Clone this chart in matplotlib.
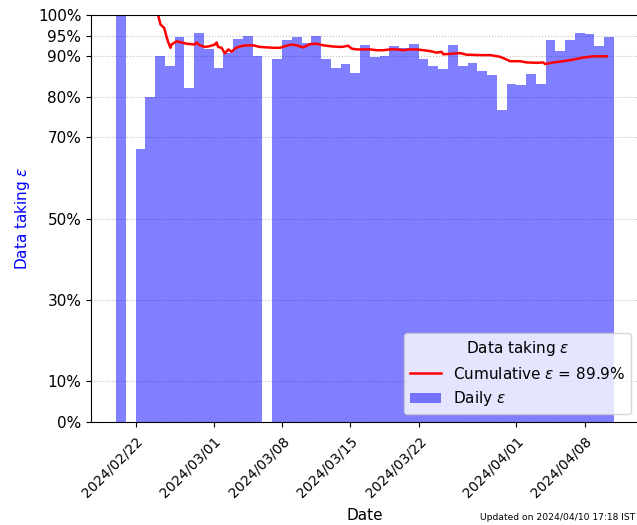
# plot.py
# Daily and cumulative data taking efficiency, Feb-Apr 2024.

import matplotlib
matplotlib.use("Agg")
import matplotlib.pyplot as plt
import matplotlib.dates as mdates
import pandas as pd

# ---------------------------------------------------------------------------
# Data
# ---------------------------------------------------------------------------

daily_dates = (
    ["2024-02-20"]
    + [d.strftime("%Y-%m-%d") for d in pd.date_range("2024-02-22", "2024-03-05")]
    + [d.strftime("%Y-%m-%d") for d in pd.date_range("2024-03-07", "2024-04-10")]
)
daily_eff = [
    100.0,                                                  # 02/20
    67.1, 80.0, 90.1, 87.4, 94.6, 82.1, 95.7, 91.7,         # 02/22 - 02/29
    87.1, 90.7, 94.2, 94.9, 90.1,                           # 03/01 - 03/05
    89.2, 93.8, 94.6, 93.2, 94.8, 89.3, 87.1, 88.0, 85.9,   # 03/07 - 03/15
    92.6, 89.8, 89.9, 92.4, 92.0, 93.0, 89.3, 87.5, 86.9,   # 03/16 - 03/24
    92.8, 87.5, 88.3, 86.3, 85.3, 76.8, 83.0, 82.8,         # 03/25 - 04/01
    85.5, 83.2, 93.9, 91.2, 93.9, 95.7, 95.4, 92.5, 94.6,   # 04/02 - 04/10
]

# cumulative efficiency: time in days after 2024-02-22 and value in %
cum_start = "2024-02-22"
cum_days = [
    1.98, 2.32, 2.56, 2.93, 3.18, 3.34, 3.59, 3.69, 4.20, 5.23,
    6.08, 6.25, 6.59, 7.10, 7.61, 8.13, 8.30, 8.46, 8.81, 9.15,
    9.49, 9.84, 10.17, 10.51, 11.02, 11.54, 12.05, 12.74, 13.42, 14.10,
    14.78, 15.47, 15.98, 16.50, 17.17, 17.86, 18.55, 19.22, 20.25, 21.11,
    21.78, 22.13, 22.64, 23.32, 24.01, 24.69, 25.37, 26.05, 26.74, 27.42,
    28.10, 28.79, 29.47, 30.15, 30.84, 31.35, 31.52, 32.20, 33.23, 33.91,
    35.28, 36.30, 37.32, 38.01, 38.35, 39.37, 40.06, 41.09, 41.76, 41.94,
    42.79, 43.81, 44.84, 45.86, 46.89, 48.26,
]
cum_eff = [
    104.0, 100.0, 97.7, 96.9, 94.7, 93.4, 92.0, 92.8, 93.6, 93.0,
    92.8, 93.3, 92.6, 92.2, 92.4, 92.8, 93.3, 92.2, 92.0, 90.6,
    91.6, 91.0, 91.8, 92.2, 92.5, 92.6, 92.6, 92.2, 92.1, 92.0,
    92.0, 92.5, 92.8, 92.6, 92.1, 92.9, 93.0, 92.6, 92.3, 92.2,
    92.5, 91.8, 91.6, 91.6, 91.6, 91.4, 91.4, 91.6, 91.6, 91.4,
    91.6, 91.6, 91.4, 91.2, 90.8, 91.0, 90.4, 90.5, 90.7, 90.3,
    90.2, 90.2, 89.8, 89.1, 88.7, 88.7, 88.4, 88.3, 88.4, 88.0,
    88.4, 88.7, 89.1, 89.6, 89.9, 89.9,
]
cum_final = 89.9

y_ticks = [0, 10, 30, 50, 70, 80, 90, 95, 100]
x_ticks = ["2024-02-22", "2024-03-01", "2024-03-08", "2024-03-15",
           "2024-03-22", "2024-04-01", "2024-04-08"]
updated_text = "Updated on 2024/04/10 17:18 IST"

# ---------------------------------------------------------------------------
# Plot
# ---------------------------------------------------------------------------

bar_x = pd.to_datetime(daily_dates)
cum_x = pd.Timestamp(cum_start) + pd.to_timedelta(cum_days, unit="D")

fig = plt.figure(figsize=(6.37, 5.25), dpi=100)
ax = fig.add_axes([0.143, 0.196, 0.860, 0.775])

ax.bar(bar_x, daily_eff, width=1.0, align="edge", color="blue", alpha=0.5,
       label=r"Daily $\varepsilon$")
ax.plot(cum_x, cum_eff, color="red", lw=1.8,
        label=r"Cumulative $\varepsilon$ = %.1f%%" % cum_final)

ax.set_ylim(0, 100)
ax.set_yticks(y_ticks)
ax.set_yticklabels([f"{t}%" for t in y_ticks], fontsize=11)
ax.grid(axis="y", linestyle=":", color="#c0c0c0")
ax.set_axisbelow(True)

ax.set_xticks(pd.to_datetime(x_ticks))
ax.xaxis.set_major_formatter(mdates.DateFormatter("%Y/%m/%d"))
plt.setp(ax.get_xticklabels(), rotation=45, ha="right",
         rotation_mode="anchor", fontsize=10)
ax.tick_params(axis="x", pad=5)

ax.set_xlabel("Date", fontsize=11, labelpad=6)
ax.set_ylabel(r"Data taking $\varepsilon$", color="blue", fontsize=11)

ax.legend(loc="lower right", title=r"Data taking $\varepsilon$",
          fontsize=11, title_fontsize=11)

# the reference runs this stamp to the right edge; keep it just inside
fig.text(0.997, 0.006, updated_text, fontsize=6.6, ha="right", va="bottom")

plt.savefig("out.png", dpi=100)
plt.close()
